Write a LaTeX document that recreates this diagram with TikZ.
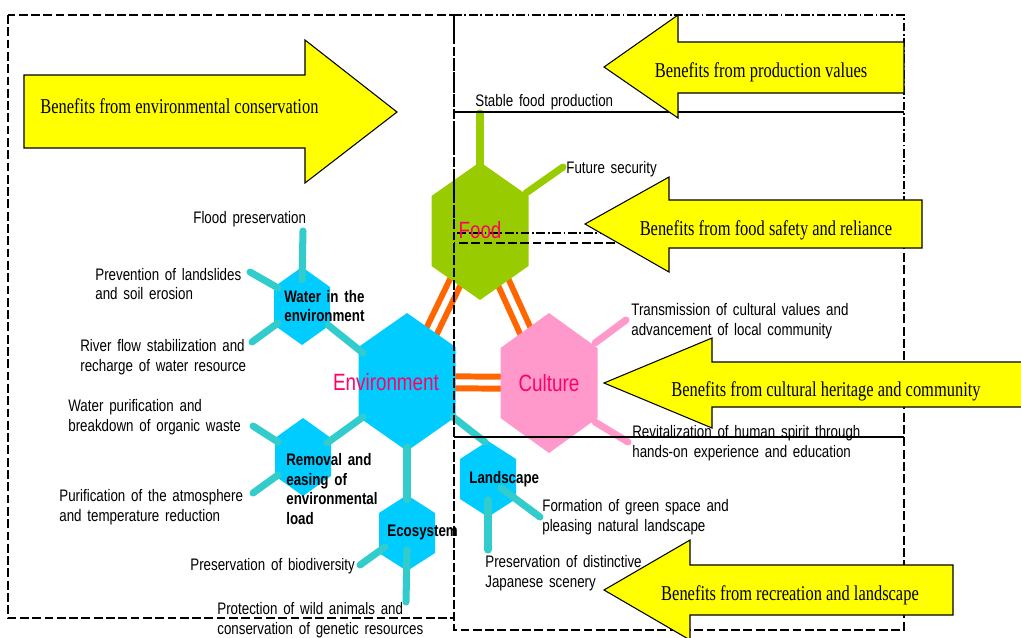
\documentclass[tikz,border=0pt]{standalone}
\usepackage{fontspec}
\usetikzlibrary{calc}
\newfontfamily\narrowsf{Liberation Sans}[FakeStretch=0.8]
\newfontfamily\narrowrm{Liberation Serif}[FakeStretch=0.78]

\definecolor{envblue}{HTML}{00CCFF}
\definecolor{foodgreen}{HTML}{99CC00}
\definecolor{culturepink}{HTML}{FF99CC}
\definecolor{bondorange}{HTML}{FF6600}
\definecolor{twigteal}{HTML}{33CCCC}
\definecolor{namepink}{HTML}{FF0066}
\definecolor{bannerfill}{HTML}{FFFF00}

\newcommand{\remarkfont}{\narrowsf\fontsize{9.5}{11.3}\selectfont\spaceskip 3.3pt plus 1pt\relax}

\tikzstyle{remark}=[inner sep=0pt, anchor=west, align=left, font=\remarkfont]
\tikzstyle{subname}=[remark, font=\remarkfont\bfseries]
\tikzstyle{hexname}=[inner sep=0pt, text=namepink, font=\narrowsf\fontsize{13.4}{16}\selectfont]
\tikzstyle{bannertext}=[inner sep=0pt, font=\narrowrm\fontsize{12}{14}\selectfont]
\tikzstyle{banner}=[fill=bannerfill, draw=black, line width=0.6pt, line join=miter]
\tikzstyle{twig}=[line width=4pt, line cap=round, twigteal]
\tikzstyle{bond}=[draw=bondorange, line width=3.4pt, double=white, double distance=3.4pt]
\tikzstyle{frame}=[line width=0.8pt, dash pattern=on 5pt off 2pt]
\tikzstyle{frametop}=[line width=0.8pt, dash pattern=on 5pt off 1.5pt on 1pt off 1.5pt]

% fill colour, centre, half width, half side, half height
\newcommand{\hexagon}[5]{\fill[#1] (#2) ++(0,-#5) -- ++(#3,#5-#4) -- ++(0,2*#4) -- ++(-#3,#5-#4) -- ++(-#3,#4-#5) -- ++(0,-2*#4) -- cycle;}

\begin{document}
\begin{tikzpicture}[x=0.02cm, y=-0.02cm]
    \useasboundingbox (0,0) rectangle (1021,637);

    \coordinate (env) at (407,382);
    \coordinate (food) at (480,231);
    \coordinate (culture) at (549,383);
    \coordinate (water) at (302,306);
    \coordinate (removal) at (303,457);
    \coordinate (eco) at (407,533);
    \coordinate (land) at (488,479);

    % links between the three main hexagons
    \draw[bond] (env) -- (food);
    \draw[bond] (env) -- (culture);
    \draw[bond] (food) -- (culture);

    \hexagon{envblue}{env}{48.5}{35}{69}
    \hexagon{foodgreen}{food}{48.5}{35}{69}
    \hexagon{culturepink}{culture}{48.5}{35}{70}
    \hexagon{envblue}{water}{28}{19}{39}
    \hexagon{envblue}{removal}{28}{19}{39}
    \hexagon{envblue}{eco}{28}{20}{38}
    \hexagon{envblue}{land}{28}{20}{38}

    % free ends of the branches
    \coordinate (flood-end) at (303,231);
    \coordinate (slide-end) at (250,272);
    \coordinate (river-end) at (252,342);
    \coordinate (purif-end) at (253,426);
    \coordinate (atmos-end) at (253,493);
    \coordinate (biodiv-end) at (360,565);
    \coordinate (wild-end) at (406,602);
    \coordinate (scenery-end) at (488,550);
    \coordinate (green-end) at (540,517);
    \coordinate (stable-end) at (480,113);
    \coordinate (future-end) at (563,167);
    \coordinate (trans-end) at (626,320);
    \coordinate (revit-end) at (628,442);

    \draw[twig] ($(water)+(0,-26)$) -- (flood-end);
    \draw[twig] ($(water)+(-24,-18)$) -- (slide-end);
    \draw[twig] ($(water)+(-24,17)$) -- (river-end);
    \draw[twig] ($(water)+(26,19)$) -- ($(env)+(-44,-29)$);
    \draw[twig] ($(env)+(-44,35)$) -- ($(removal)+(24,-14)$);
    \draw[twig] ($(env)+(0,65)$) -- ($(eco)+(0,-33)$);
    \draw[twig] ($(env)+(46,35)$) -- ($(land)+(-3,-37)$);
    \draw[twig] ($(removal)+(-25,-15)$) -- (purif-end);
    \draw[twig] ($(removal)+(-25,18)$) -- (atmos-end);
    \draw[twig] ($(eco)+(-22,14)$) -- (biodiv-end);
    \draw[twig] ($(eco)+(0,17)$) -- (wild-end);
    \draw[twig] ($(land)+(0,21)$) -- (scenery-end);
    \draw[twig] ($(land)+(13,9)$) -- (green-end);
    \draw[twig, foodgreen] ($(food)+(0,-60)$) -- (stable-end);
    \draw[twig, foodgreen] ($(food)+(46,-38)$) -- (future-end);
    \draw[twig, culturepink] ($(culture)+(46,-40)$) -- (trans-end);
    \draw[twig, culturepink] ($(culture)+(46,39)$) -- (revit-end);

    % frames
    \draw[frame] (8,15) rectangle (454,618);
    \draw[frametop] (454,15) rectangle (904,233);
    \draw[frame] (454,243) rectangle (904,630);
    \draw[line width=0.8pt] (454,112) -- (904,112);
    \draw[line width=0.8pt] (454,437) -- (904,437);

    \node[hexname] (envname) at (386,382) {Environment};
    \node[hexname] (foodname) at (480,230) {Food};
    \node[hexname] (culturename) at (549,383) {Culture};

    \node[subname] (watername) at (284,306) {Water in the\\environment};
    \node[subname] (removalname) at (286,489) {Removal and\\easing of\\environmental\\load};
    \node[subname] (econame) at (387,532) {Ecosystem};
    \node[subname] (landname) at (469,479) {Landscape};

    \node[remark] (stable) at (475,102) {Stable food production};
    \node[remark] (future) at (566,169) {Future security};
    \node[remark] (flood) at (193,219) {Flood preservation};
    \node[remark] (slide) at (95,284) {Prevention of landslides\\and soil erosion};
    \node[remark] (river) at (80,357) {River flow stabilization and\\recharge of water resource};
    \node[remark] (purif) at (68,417) {Water purification and\\breakdown of organic waste};
    \node[remark] (atmos) at (59,507) {Purification of the atmosphere\\and temperature reduction};
    \node[remark] (biodiv) at (190,566) {Preservation of biodiversity};
    \node[remark] (wild) at (217,620) {Protection of wild animals and\\conservation of genetic resources};
    \node[remark] (trans) at (631,321) {Transmission of cultural values and\\advancement of local community};
    \node[remark] (revit) at (632,443) {Revitalization of human spirit through\\hands-on experience and education};
    \node[remark] (green) at (542,517) {Formation of green space and\\pleasing natural landscape};
    \node[remark] (scenery) at (485,573) {Preservation of distinctive\\Japanese scenery};

    % benefit arrows
    \draw[banner] (24,75) -- (305,75) -- (305,40) -- (397,112) -- (305,183) -- (305,148) -- (24,148) -- cycle;
    \draw[banner] (904,42) -- (678,42) -- (678,15) -- (604,67) -- (678,118) -- (678,93) -- (904,93) -- cycle;
    \draw[banner] (922,200) -- (669,200) -- (669,177) -- (585,224) -- (669,272) -- (669,248) -- (922,248) -- cycle;
    \draw[banner] (1030,362) -- (712,362) -- (712,338) -- (604,383) -- (712,428) -- (712,407) -- (1030,407) -- cycle;
    \draw[banner] (953,565) -- (690,565) -- (690,540) -- (604,590) -- (690,640) -- (690,615) -- (953,615) -- cycle;

    \node[bannertext, anchor=west] (envbenefit) at (40,106) {Benefits from environmental conservation};
    \node[bannertext] (prodbenefit) at (761,72) {Benefits from production values};
    \node[bannertext] (safebenefit) at (766,230) {Benefits from food safety and reliance};
    \node[bannertext] (cultbenefit) at (826,391) {Benefits from cultural heritage and community};
    \node[bannertext] (recbenefit) at (790,595) {Benefits from recreation and landscape};
\end{tikzpicture}
\end{document}
